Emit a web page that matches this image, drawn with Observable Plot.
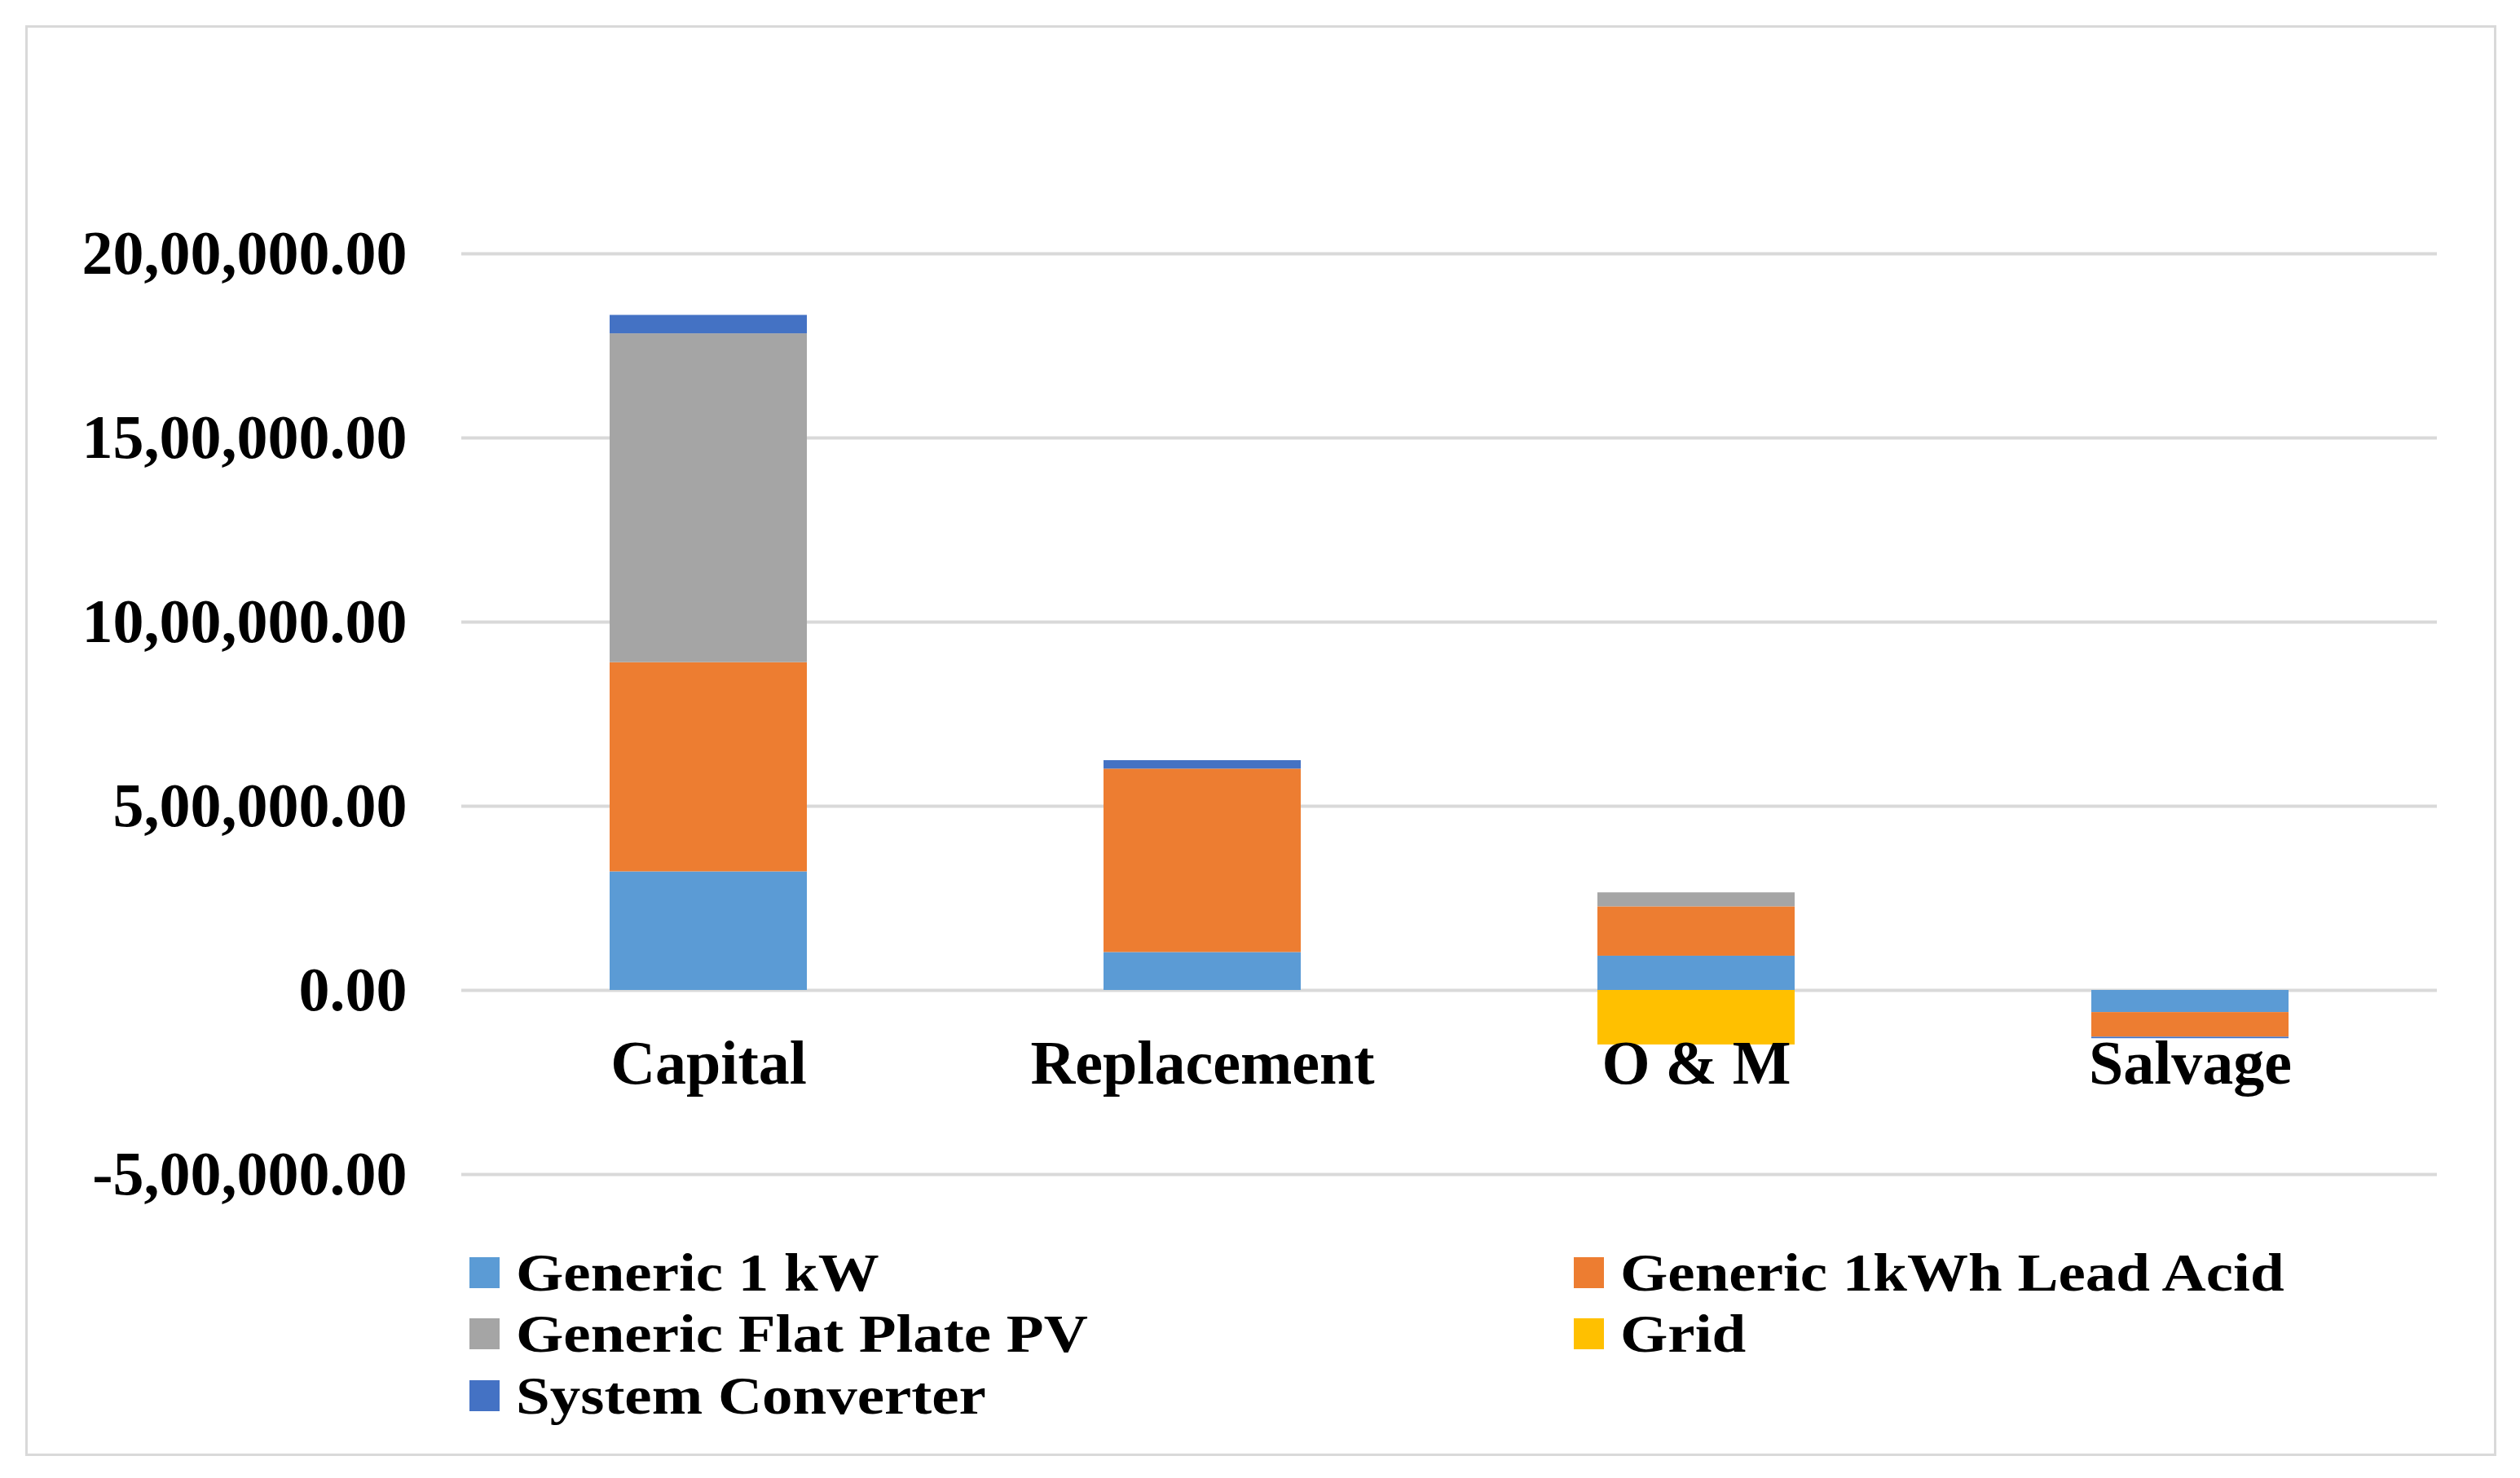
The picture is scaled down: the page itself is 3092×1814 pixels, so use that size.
<!DOCTYPE html>
<html>
<head>
<meta charset="utf-8">
<script src="https://cdn.jsdelivr.net/npm/d3@7"></script>
<script src="https://cdn.jsdelivr.net/npm/@observablehq/plot@0.6"></script>
<style>
  html, body { margin: 0; padding: 0; background: #fff; }
  body { width: 3092px; height: 1814px; position: relative; overflow: hidden; font-family: "Liberation Serif", "Times New Roman", serif; }
  #frame { position: absolute; left: 31px; top: 31px; width: 3026px; height: 1750px; border: 3px solid #d9d9d9; }
  #chart { position: absolute; left: 0; top: 0; }
  #legend { position: absolute; left: 0; top: 0; width: 3092px; height: 1814px; pointer-events: none; }
  .item { position: absolute; display: flex; align-items: center; height: 70px; font-weight: bold; font-size: 75px; color: #000; white-space: nowrap; }
  .sw { width: 37px; height: 38px; margin-right: 20px; flex: none; }
  .lbl { display: inline-block; line-height: normal; transform: scaleY(0.86); transform-origin: 50% 50%; }
</style>
</head>
<body>
<div id="frame"></div>
<div id="chart"></div>
<div id="legend"></div>
<script>
// ---- data ----
const categories = ["Capital", "Replacement", "O & M", "Salvage"];
const seriesNames = ["Generic 1 kW", "Generic 1kWh Lead Acid", "Generic Flat Plate PV", "Grid", "System Converter"];
const seriesColors = ["#5b9bd5", "#ed7d31", "#a5a5a5", "#ffc000", "#4472c4"];
const generic1kW = [322000, 103000, 93000, -60000];
const leadAcid = [568000, 498000, 134000, -67000];
const flatPlatePV = [893000, 0, 38000, 0];
const gridValues = [0, 0, -148000, 0];
const systemConverter = [50000, 23000, 0, -4000];
const tickValues = [-500000, 0, 500000, 1000000, 1500000, 2000000];
const tickLabels = ["-5,00,000.00", "0.00", "5,00,000.00", "10,00,000.00", "15,00,000.00", "20,00,000.00"];

const seriesValues = [generic1kW, leadAcid, flatPlatePV, gridValues, systemConverter];
const rows = [];
seriesNames.forEach((s, si) => {
  categories.forEach((c, ci) => {
    rows.push({category: c, series: s, value: seriesValues[si][ci]});
  });
});

const font = "'Liberation Serif', 'Times New Roman', serif";
const chart = Plot.plot({
  width: 3092,
  height: 1500,
  marginLeft: 566,
  marginRight: 102,
  marginTop: 311,
  marginBottom: 59,
  style: {fontFamily: font, fontSize: "76px", fontWeight: "bold", color: "#000", background: "transparent"},
  x: {domain: categories, paddingInner: 0.6, paddingOuter: 0.3, axis: null},
  y: {domain: [-500000, 2000000], ticks: tickValues, tickFormat: d => tickLabels[tickValues.indexOf(d)], tickSize: 0, tickPadding: 67, label: null},
  color: {domain: seriesNames, range: seriesColors},
  marks: [
    Plot.ruleY(tickValues, {stroke: "#d9d9d9", strokeWidth: 4}),
    Plot.barY(rows, {x: "category", y: "value", fill: "series", order: seriesNames}),
    Plot.text(categories, {x: d => d, y: () => 0, text: d => d, dy: 90, fill: "#000"})
  ]
});
document.getElementById("chart").appendChild(chart);

// ---- legend ----
const legendPos = [
  {left: 576, top: 1527}, {left: 1931, top: 1527},
  {left: 576, top: 1602}, {left: 1931, top: 1602},
  {left: 576, top: 1678}
];
const legend = document.getElementById("legend");
seriesNames.forEach((s, i) => {
  const d = document.createElement("div");
  d.className = "item";
  d.style.left = legendPos[i].left + "px";
  d.style.top = legendPos[i].top + "px";
  const sw = document.createElement("span");
  sw.className = "sw";
  sw.style.background = seriesColors[i];
  const t = document.createElement("span");
  t.className = "lbl";
  t.textContent = s;
  d.appendChild(sw);
  d.appendChild(t);
  legend.appendChild(d);
});
</script>
</body>
</html>
